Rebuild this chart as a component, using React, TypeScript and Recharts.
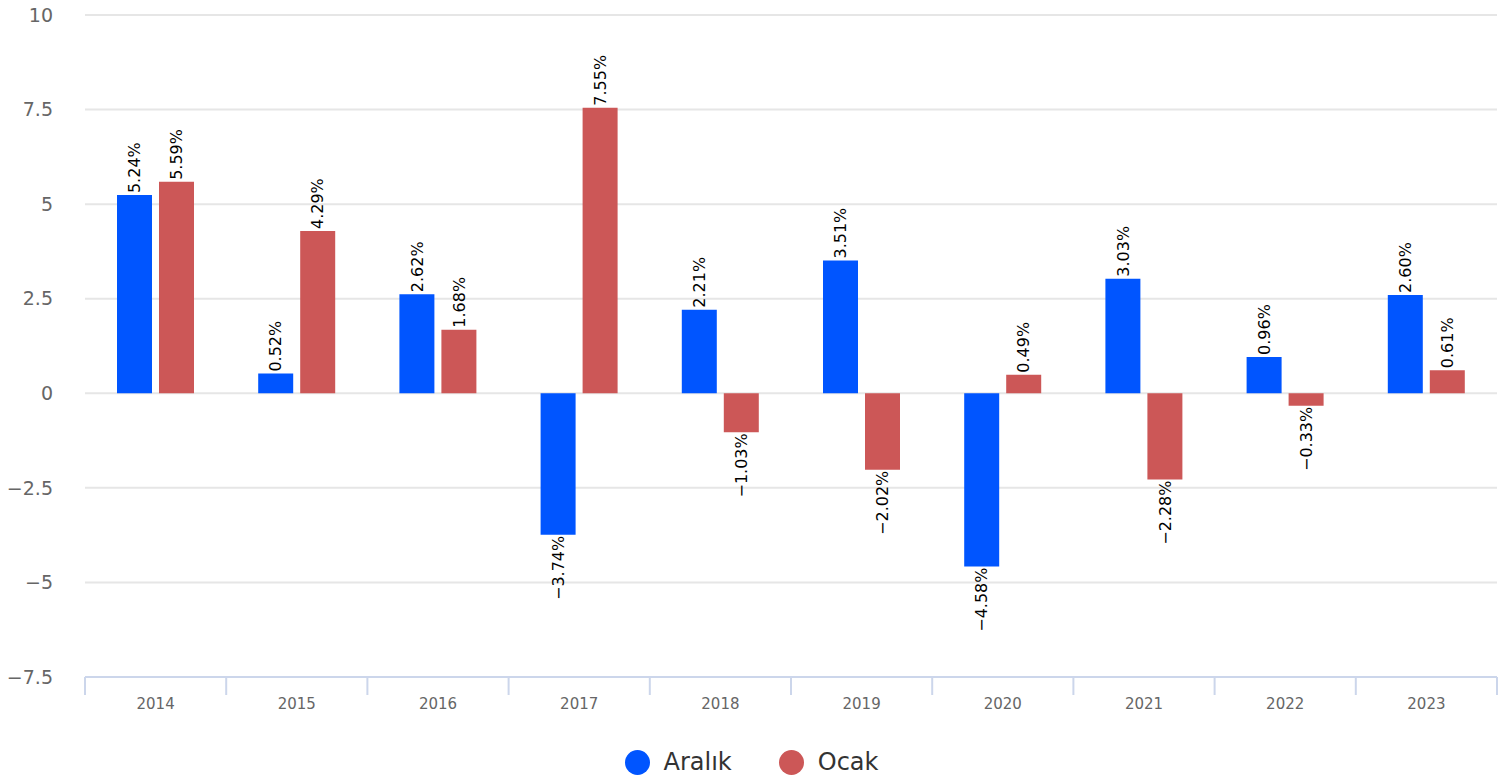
import React from 'react';
import { BarChart, Bar, XAxis, YAxis, CartesianGrid, LabelList, Legend } from 'recharts';

const years = ['2014', '2015', '2016', '2017', '2018', '2019', '2020', '2021', '2022', '2023'];
const aralik = [5.24, 0.52, 2.62, -3.74, 2.21, 3.51, -4.58, 3.03, 0.96, 2.6];
const ocak = [5.59, 4.29, 1.68, 7.55, -1.03, -2.02, 0.49, -2.28, -0.33, 0.61];
const yTicks = [-7.5, -5, -2.5, 0, 2.5, 5, 7.5, 10];
const seriesKeys = ['aralik', 'ocak'];
const seriesNames = ['Aralık', 'Ocak'];
const seriesColors = ['#0055ff', '#cc5757'];

const data = years.map((y, i) => ({ year: y, aralik: aralik[i], ocak: ocak[i] }));

const FONT = '"DejaVu Sans", Verdana, sans-serif';
const fmt = (v: number) => (v < 0 ? '\u2212' : '') + Math.abs(v).toFixed(2) + '%';
const fmtTick = (v: number) => (v < 0 ? '\u2212' : '') + String(Math.abs(v));

function BarLabel(props: any) {
  const { x, y, width, height, value } = props;
  const v = Number(value);
  const cx = Number(x) + Number(width) / 2;
  const y1 = Number(y);
  const y2 = Number(y) + Number(height);
  if (v >= 0) {
    const top = Math.min(y1, y2);
    return (
      <text
        transform={`translate(${cx},${top - 2}) rotate(-90)`}
        textAnchor="start"
        dy="0.36em"
        fontSize={16}
        fontFamily={FONT}
        fill="#000"
      >
        {fmt(v)}
      </text>
    );
  }
  const bottom = Math.max(y1, y2);
  return (
    <text
      transform={`translate(${cx},${bottom + 1}) rotate(-90)`}
      textAnchor="end"
      dy="0.36em"
      fontSize={16}
      fontFamily={FONT}
      fill="#000"
    >
      {fmt(v)}
    </text>
  );
}

function XTick(props: any) {
  const { x, y, payload, index, width } = props;
  const half =
    payload && typeof payload.offset === 'number' && payload.offset > 0
      ? payload.offset
      : Number(width) / years.length / 2;
  const left = x - half;
  const right = x + half;
  const isLast = index === years.length - 1;
  return (
    <g>
      <line x1={left} x2={left} y1={y} y2={y + 18} stroke="#ccd6eb" strokeWidth={2} />
      {isLast && <line x1={right} x2={right} y1={y} y2={y + 18} stroke="#ccd6eb" strokeWidth={2} />}
      <text x={x} y={y + 32} textAnchor="middle" fontSize={15} fontFamily={FONT} fill="#666">
        {payload.value}
      </text>
    </g>
  );
}

function LegendContent() {
  return (
    <div
      style={{
        display: 'flex',
        justifyContent: 'center',
        alignItems: 'center',
        fontFamily: FONT,
        width: '100%',
      }}
    >
      {seriesNames.map((n, i) => (
        <div
          key={n}
          style={{ display: 'flex', alignItems: 'center', marginLeft: i === 0 ? 0 : 47 }}
        >
          <div
            style={{
              width: 25,
              height: 25,
              borderRadius: '50%',
              background: seriesColors[i],
              marginRight: 14,
            }}
          />
          <span style={{ fontSize: 24, color: '#333', lineHeight: '28px' }}>{n}</span>
        </div>
      ))}
    </div>
  );
}

export default function App() {
  return (
    <div style={{ position: 'absolute', left: 0, top: 0, width: 1503, height: 778, background: '#fff' }}>
      <BarChart
        width={1503}
        height={778}
        data={data}
        margin={{ top: 15, right: 6, bottom: 0, left: 0 }}
        barSize={35}
        barGap={7}
      >
        <CartesianGrid vertical={false} stroke="#e6e6e6" strokeWidth={2} />
        <XAxis
          dataKey="year"
          height={101}
          axisLine={{ stroke: '#ccd6eb', strokeWidth: 2 }}
          tickLine={false}
          tickSize={0}
          tickMargin={0}
          interval={0}
          tick={<XTick />}
        />
        <YAxis
          width={85}
          domain={[-7.5, 10]}
          ticks={yTicks}
          interval={0}
          axisLine={false}
          tickLine={false}
          tickSize={0}
          tickMargin={32}
          tickFormatter={fmtTick}
          tick={{ fill: '#666', fontSize: 19, fontFamily: FONT }}
        />
        <Legend
          verticalAlign="bottom"
          align="center"
          content={<LegendContent />}
          wrapperStyle={{ position: 'absolute', top: 748, left: 0, width: 1503, height: 0, overflow: 'visible' }}
        />
        {seriesKeys.map((k, i) => (
          <Bar key={k} dataKey={k} name={seriesNames[i]} fill={seriesColors[i]} isAnimationActive={false}>
            <LabelList dataKey={k} content={<BarLabel />} />
          </Bar>
        ))}
      </BarChart>
    </div>
  );
}
